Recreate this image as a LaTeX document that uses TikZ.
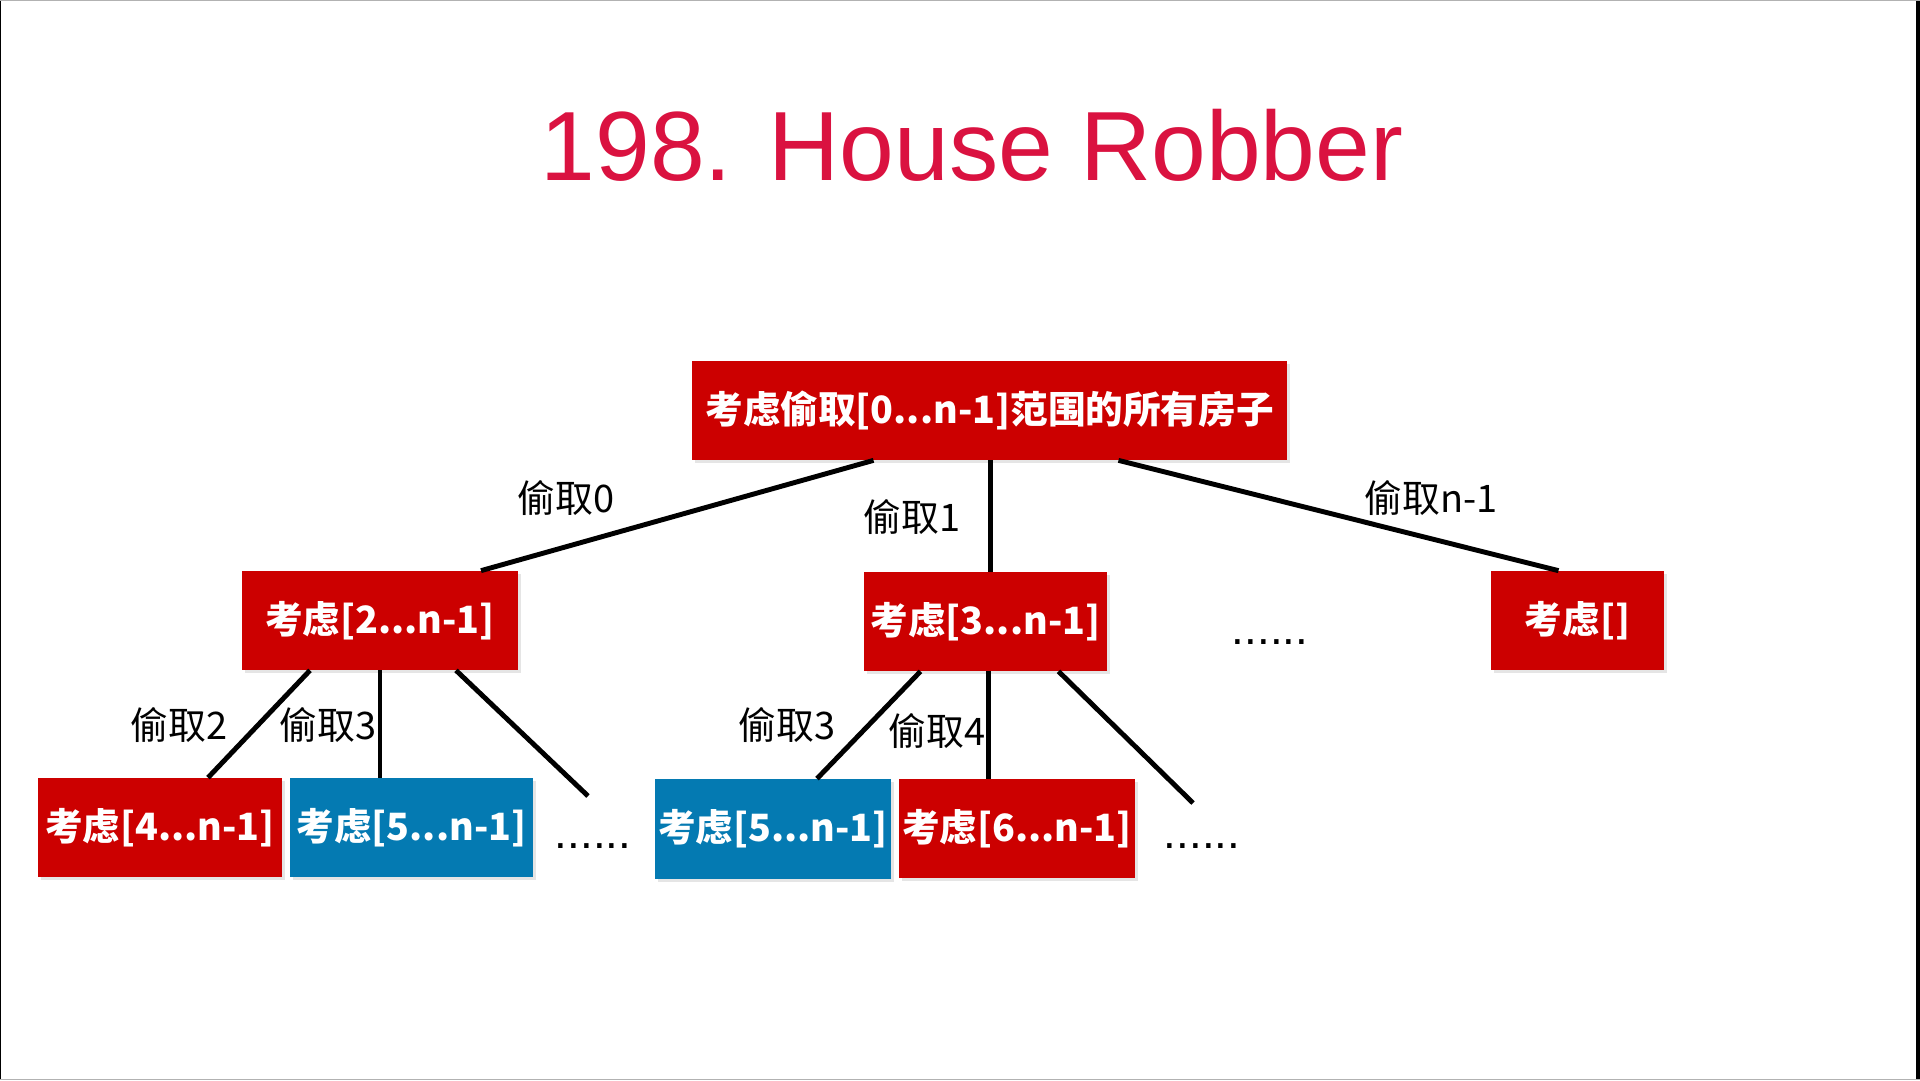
\documentclass[tikz,border=0pt]{standalone}
\usepackage{fontspec}
\setmainfont{Liberation Sans}
\newfontfamily\cjk{Noto Sans CJK SC}
\usetikzlibrary{shadows}
\newcommand\pxu{0.02cm}
\definecolor{boxred}{RGB}{204,0,0}
\definecolor{boxblue}{RGB}{4,122,178}
\definecolor{titlered}{RGB}{218,18,64}
\tikzset{
  box/.style={fill=#1, inner sep=0pt, text=white, font=\cjk\bfseries\fontsize{21.4pt}{24pt}\selectfont,
    drop shadow={opacity=0.2, shadow xshift=1.5pt, shadow yshift=-1.5pt}},
  edge/.style={line width=2.8pt},
  lbl/.style={inner sep=0pt, font=\cjk\fontsize{21.6pt}{24pt}\selectfont},
  dots/.style={inner sep=0pt, font=\fontsize{26pt}{28pt}\selectfont}
}
\begin{document}
\begin{tikzpicture}[x=0.02cm, y=-0.02cm]
\fill[white] (0,0) rectangle (1920,1080);
\useasboundingbox (0,0) rectangle (1920,1080);
\draw[black, line width=1pt] (0.5,0) -- (0.5,1080);
\draw[black, line width=2pt] (1918,0) -- (1918,1080);
\draw[gray!60, line width=0.6pt] (0,0.5) -- (1920,0.5);
\draw[gray!60, line width=0.6pt] (0,1079.5) -- (1920,1079.5);

\node[text=titlered, font=\fontsize{56pt}{60pt}\selectfont, inner sep=0pt] (title) at (972,145) {198. House Robber};

\node[box=boxred, minimum width=595*\pxu, minimum height=99*\pxu] (root) at (989.5,410.5) {考虑偷取[0...n-1]范围的所有房子};

\node[box=boxred, minimum width=276*\pxu, minimum height=99*\pxu] (A) at (380,620.5) {考虑[2...n-1]};
\node[box=boxred, minimum width=243*\pxu, minimum height=99*\pxu] (B) at (985.5,621.5) {考虑[3...n-1]};
\node[dots] (d1) at (1270,642) {......};
\node[box=boxred, minimum width=173*\pxu, minimum height=99*\pxu] (C) at (1577.5,620.5) {考虑[]};

\node[box=boxred, minimum width=244*\pxu, minimum height=99*\pxu] (D) at (160,827.5) {考虑[4...n-1]};
\node[box=boxblue, minimum width=243*\pxu, minimum height=99*\pxu] (E) at (411.5,827.5) {考虑[5...n-1]};
\node[dots] (d2) at (593,846) {......};
\node[box=boxblue, minimum width=236*\pxu, minimum height=100*\pxu] (F) at (773,829) {考虑[5...n-1]};
\node[box=boxred, minimum width=236*\pxu, minimum height=99*\pxu] (G) at (1017,828.5) {考虑[6...n-1]};
\node[dots] (d3) at (1202,846) {......};

\coordinate (fa) at (588,796);
\coordinate (fb) at (1193,803);

\draw[edge] ([xshift=-116*\pxu]root.south) -- ([xshift=101*\pxu]A.north);
\draw[edge] ([xshift=1*\pxu]root.south) -- ([xshift=1*\pxu]root.south |- B.north);
\draw[edge] ([xshift=129*\pxu]root.south) -- ([xshift=-19*\pxu]C.north);

\draw[edge] ([xshift=-70*\pxu]A.south) -- ([xshift=48*\pxu]D.north);
\draw[edge] (A.south) -- (A.south |- E.north);
\draw[edge] ([xshift=76*\pxu]A.south) -- (fa);

\draw[edge] ([xshift=-65*\pxu]B.south) -- ([xshift=44*\pxu]F.north);
\draw[edge] ([xshift=3*\pxu]B.south) -- ([xshift=3*\pxu]B.south |- G.north);
\draw[edge] ([xshift=73*\pxu]B.south) -- (fb);

\node[lbl] (l0) at (566,498) {偷取0};
\node[lbl] (l1) at (912,517) {偷取1};
\node[lbl] (ln) at (1431,498) {偷取n-1};
\node[lbl] (l2) at (179,725) {偷取2};
\node[lbl] (l3) at (328,725) {偷取3};
\node[lbl] (l3b) at (787,725) {偷取3};
\node[lbl] (l4) at (937,731) {偷取4};
\end{tikzpicture}
\end{document}
